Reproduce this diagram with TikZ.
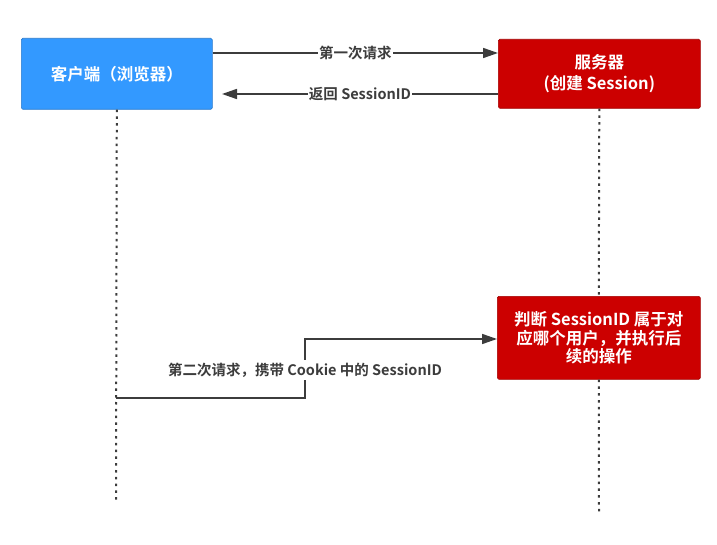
\documentclass[tikz,border=0pt]{standalone}
\usepackage{fontspec}
\setmainfont{Noto Sans CJK SC}[BoldFont={Noto Sans CJK SC Bold}]
\usetikzlibrary{arrows.meta}
\definecolor{cblue}{RGB}{51,153,255}
\definecolor{cred}{RGB}{204,0,0}
\definecolor{cline}{RGB}{60,60,60}
\begin{document}
\begin{tikzpicture}[x=1pt,y=-1pt,
  box/.style={draw=#1!80!black,line width=0.6pt,fill=#1,rounded corners=1.5pt,text=white,font=\fontsize{16.5}{19}\selectfont\bfseries,align=center,anchor=north west,inner sep=0pt},
  life/.style={cline,line width=2pt,dash pattern=on 2.5pt off 4.3pt},
  msg/.style={cline,line width=1.6pt,-{Triangle[length=15pt,width=10pt]}},
  lbl/.style={fill=white,inner sep=1pt,text=cline,font=\fontsize{14.5}{16}\selectfont\bfseries}]
\useasboundingbox (0,0) rectangle (717,545);
\node[box=cblue,minimum width=191pt,minimum height=71pt] (client) at (21,38) {客户端（浏览器）};
\node[box=cred,minimum width=202pt,minimum height=69pt,font=\fontsize{16.5}{20.5}\selectfont\bfseries] (server) at (498,39) {服务器\\(创建 Session)};
\node[box=cred,minimum width=203pt,minimum height=83pt,font=\fontsize{16.5}{18.5}\selectfont\bfseries] (judge) at (497,296) {判断 SessionID 属于对\\应哪个用户，并执行后\\续的操作};
\coordinate (cl) at (116,500);
\coordinate (sl) at (599,512);
\draw[life] (client.south) -- (cl);
\draw[life] (server.south) -- (judge.north);
\draw[life] (judge.south) -- (sl);
\coordinate (a1s) at (client.east |- 0,53);
\coordinate (a1e) at (server.west |- 0,53);
\draw[msg] (a1s) -- (a1e) node[lbl,midway] (l1) {第一次请求};
\coordinate (a2s) at (server.west |- 0,94);
\coordinate (a2e) at (222,94);
\draw[msg] (a2s) -- (a2e) node[lbl,pos=0.5] (l2) {返回 SessionID};
\coordinate (a3s) at (116,398);
\coordinate (a3m1) at (305,398);
\coordinate (a3m2) at (305,339);
\coordinate (a3e) at (judge.west |- 0,339);
\draw[msg] (a3s) -- (a3m1) -- (a3m2) -- (a3e);
\node[lbl,inner sep=3pt] (l3) at (305,370) {第二次请求，携带 Cookie 中的 SessionID};
\end{tikzpicture}
\end{document}
